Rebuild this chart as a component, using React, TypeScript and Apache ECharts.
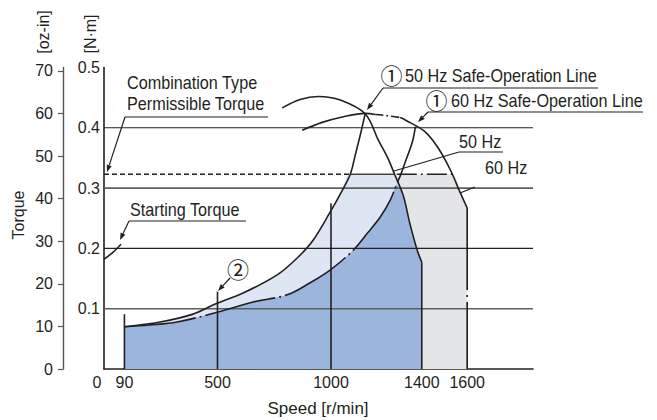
import React, { useEffect, useRef } from "react";
import * as echarts from "echarts";

// ---------- data ----------
const xMax = 1890;
const xTickValues = [0, 90, 500, 1000, 1400, 1600];
const nmMax = 0.5;
const nmTickValues = [0.1, 0.2, 0.3, 0.4, 0.5];
const ozPerNm = 141.612;
const ozTickValues = [0, 10, 20, 30, 40, 50, 60, 70];
const gridValues = [0.1, 0.2, 0.3, 0.4];

// starting torque (start of the speed-torque curve)
const startingTorqueCurve = [[0, 0.182], [38, 0.193], [75, 0.207]];
// 50 Hz speed-torque curve
const torque50Hz = [[785, 0.433], [864, 0.447], [944, 0.452], [1041, 0.446], [1151, 0.423], [1208, 0.38], [1250, 0.35], [1280, 0.323], [1318, 0.288], [1349, 0.239], [1380, 0.197], [1400, 0.177]];
const edge1400 = [[1400, 0.177], [1400, 0]];
// 60 Hz speed-torque curve (solid / dash-dot / solid)
const torque60HzA = [[873, 0.396], [961, 0.409], [1050, 0.418], [1151, 0.424], [1195, 0.422]];
const torque60HzB = [[1195, 0.422], [1250, 0.42], [1305, 0.417]];
const torque60HzC = [[1305, 0.417], [1327, 0.413], [1416, 0.393], [1473, 0.366], [1526, 0.33], [1570, 0.292], [1600, 0.267]];
const edge1600 = [[1600, 0.267], [1600, 0]];
// safe-operation lines
const safe50Hz = [[90, 0.07], [247, 0.078], [392, 0.091], [498, 0.109], [613, 0.126], [763, 0.156], [851, 0.184], [922, 0.214], [996, 0.26], [1045, 0.293], [1085, 0.323], [1107, 0.355], [1129, 0.388], [1151, 0.424]];
const safe60Hz = [[90, 0.07], [200, 0.073], [322, 0.078], [498, 0.094], [657, 0.111], [807, 0.123], [908, 0.143], [996, 0.164], [1098, 0.197], [1160, 0.225], [1217, 0.252], [1261, 0.28], [1293, 0.31], [1308, 0.323], [1327, 0.343], [1358, 0.376], [1372, 0.402]];
// combination type permissible torque
const permissibleDashed = [[0, 0.323], [1085, 0.323]];
const permissibleSolid = [[1085, 0.323], [1280, 0.323]];
const permissibleDashDot = [[1290, 0.323], [1534, 0.323]];
// speed markers (vertical lines)
const speedMarkers = [[90, 0.091], [500, 0.128], [1000, 0.275]];
// operating regions
const region60Hz = [[90, 0.07], [200, 0.073], [322, 0.078], [498, 0.094], [657, 0.111], [807, 0.123], [908, 0.143], [996, 0.164], [1098, 0.197], [1160, 0.225], [1217, 0.252], [1261, 0.28], [1293, 0.31], [1308, 0.323], [1534, 0.323], [1570, 0.292], [1600, 0.267], [1600, 0]];
const region50Hz = [[90, 0.07], [247, 0.078], [392, 0.091], [498, 0.109], [613, 0.126], [763, 0.156], [851, 0.184], [922, 0.214], [996, 0.26], [1045, 0.293], [1085, 0.323], [1280, 0.323], [1318, 0.288], [1349, 0.239], [1380, 0.197], [1400, 0.177], [1400, 0]];
const regionBoth = [[90, 0.07], [200, 0.073], [322, 0.078], [498, 0.094], [657, 0.111], [807, 0.123], [908, 0.143], [996, 0.164], [1098, 0.197], [1160, 0.225], [1217, 0.252], [1261, 0.28], [1290, 0.306], [1318, 0.288], [1349, 0.239], [1380, 0.197], [1400, 0.177], [1400, 0]];

// ---------- styles ----------
const ink = "#231f20";
const FONT = '"Liberation Sans", "Noto Sans CJK JP", Arial, sans-serif';
const FS = 16;

function lineSeries(data: number[][], opts: any = {}) {
  return {
    type: "line",
    data,
    symbol: "none",
    silent: true,
    smooth: opts.smooth ?? 0,
    z: opts.z ?? 4,
    lineStyle: { color: opts.color ?? ink, width: opts.width ?? 1.6, type: opts.type ?? "solid" },
  };
}
function areaSeries(data: number[][], color: string, z: number) {
  return {
    type: "line",
    data,
    symbol: "none",
    silent: true,
    smooth: 0.3,
    z,
    lineStyle: { width: 0, opacity: 0 },
    areaStyle: { color, opacity: 1 },
  };
}

function txt(x: number, y: number, text: string, extra: any = {}) {
  return {
    type: "text",
    x,
    y,
    rotation: extra.rotation ?? 0,
    scaleX: extra.scaleX ?? 1,
    z: 100,
    style: {
      text,
      font: `${extra.size ?? FS}px ${FONT}`,
      fill: ink,
      align: extra.align ?? "left",
      verticalAlign: "middle",
    },
  };
}
// annotation text: slightly condensed
function note(x: number, y: number, text: string) {
  return txt(x, y, text, { size: 18, scaleX: 0.9 });
}
function circled(cx: number, cy: number, ch: string) {
  return txt(cx, cy, ch, { size: 22, align: "center" });
}
function seg(x1: number, y1: number, x2: number, y2: number, w = 1.2) {
  return { type: "line", z: 100, shape: { x1, y1, x2, y2 }, style: { stroke: ink, lineWidth: w } };
}
function arrow(x1: number, y1: number, x2: number, y2: number) {
  const dx = x2 - x1, dy = y2 - y1;
  const len = Math.hypot(dx, dy);
  const ux = dx / len, uy = dy / len;
  const hl = 7, hw = 2.6;
  const bx = x2 - ux * hl, by = y2 - uy * hl;
  const px = -uy, py = ux;
  return [
    seg(x1, y1, bx, by),
    {
      type: "polygon",
      z: 100,
      shape: { points: [[x2, y2], [bx + px * hw, by + py * hw], [bx - px * hw, by - py * hw]] },
      style: { fill: ink },
    },
  ];
}

export default function App() {
  const ref = useRef<HTMLDivElement>(null);
  useEffect(() => {
    if (!ref.current) return;
    const chart = echarts.init(ref.current, null, { renderer: "svg" });

    const gridSeries = gridValues.map((v, i) =>
      lineSeries([[0, v], [xMax, v]], {
        z: 3,
        color: i % 2 === 0 ? "#5f5f5f" : "#222",
        width: i % 2 === 0 ? 1.6 : 1.1,
      })
    );
    const markerSeries = speedMarkers.map((m) => lineSeries([[m[0], 0], [m[0], m[1]]], { width: 1.6 }));

    const option: any = {
      animation: false,
      backgroundColor: "#fff",
      grid: { left: 104, right: 124, top: 67.5, bottom: 51, containLabel: false },
      xAxis: {
        type: "value",
        min: 0,
        max: xMax,
        axisLine: { show: true, lineStyle: { color: ink, width: 1.6 } },
        axisTick: { show: false },
        splitLine: { show: false },
        axisLabel: {
          customValues: xTickValues,
          margin: 5,
          color: ink,
          fontSize: FS,
          fontFamily: FONT,
          formatter: (v: number) => (v === 0 ? "{l|0}" : String(v)),
          rich: { l: { padding: [0, 14, 0, 0], fontSize: FS, fontFamily: FONT, color: ink } },
        },
      },
      yAxis: [
        {
          type: "value",
          min: 0,
          max: nmMax,
          position: "left",
          axisLine: { show: true, lineStyle: { color: ink, width: 1.6 } },
          axisTick: { show: false },
          splitLine: { show: false },
          axisLabel: {
            customValues: nmTickValues,
            margin: 4,
            color: ink,
            fontSize: FS,
            fontFamily: FONT,
            formatter: (v: number) => v.toFixed(1),
          },
        },
        {
          type: "value",
          min: 0,
          max: nmMax * ozPerNm,
          position: "left",
          offset: 41,
          axisLine: { show: true, lineStyle: { color: "#555", width: 1.4 } },
          axisTick: { show: true, inside: false, length: 5, customValues: ozTickValues, lineStyle: { color: "#555", width: 1.2 } },
          splitLine: { show: false },
          axisLabel: {
            customValues: ozTickValues,
            margin: 10,
            color: ink,
            fontSize: FS,
            fontFamily: FONT,
          },
        },
      ],
      series: [
        areaSeries(region60Hz, "#e4e5e7", 1),
        areaSeries(region50Hz, "#dfe6f3", 1),
        areaSeries(regionBoth, "#9bb5dd", 1),
        ...gridSeries,
        lineSeries(permissibleDashed, { type: [5, 3], width: 1.3 }),
        lineSeries(permissibleSolid, { width: 1.3, color: "#444" }),
        lineSeries(permissibleDashDot, { type: [20, 4, 2, 4], width: 1.4 }),
        lineSeries(startingTorqueCurve, { smooth: 0.3 }),
        lineSeries(torque50Hz, { smooth: 0.35 }),
        lineSeries(edge1400),
        lineSeries(torque60HzA, { smooth: 0.35 }),
        lineSeries(torque60HzB, { smooth: 0.35, type: [8, 3, 2, 3] }),
        lineSeries(torque60HzC, { smooth: 0.35 }),
        lineSeries(edge1600, { type: [82, 5, 2, 5, 300] }),
        lineSeries(safe50Hz, { smooth: 0.35 }),
        lineSeries(safe60Hz, { smooth: 0.35, type: [72, 4, 2, 4] }),
        ...markerSeries,
      ],
      graphic: [
        txt(43, 32, "[oz-in]", { rotation: Math.PI / 2, align: "center" }),
        txt(90, 34, "[N·m]", { rotation: Math.PI / 2, align: "center" }),
        txt(18, 215, "Torque", { rotation: Math.PI / 2, align: "center" }),
        txt(318, 408, "Speed [r/min]", { align: "center", size: 17 }),
        note(127, 83, "Combination Type"),
        note(127, 104, "Permissible Torque"),
        seg(125, 117, 268, 117),
        ...arrow(125, 117, 107, 172),
        note(130, 210, "Starting Torque"),
        seg(129, 221, 246, 221),
        ...arrow(129, 221, 120, 240),
        circled(391.5, 76, "①"),
        note(405, 76, "50 Hz Safe-Operation Line"),
        seg(383, 88, 598, 88),
        ...arrow(383, 88, 367, 110),
        circled(436.5, 101, "①"),
        note(451, 101, "60 Hz Safe-Operation Line"),
        seg(428, 112, 643, 112),
        ...arrow(428, 112, 418, 122),
        note(459, 142, "50 Hz"),
        seg(459, 152, 503, 152),
        seg(394, 171, 459, 152),
        note(485, 168, "60 Hz"),
        seg(460, 193, 475, 187),
        circled(238, 270, "②"),
        ...arrow(230, 278, 218, 291),
      ],
    };
    chart.setOption(option);
    return () => chart.dispose();
  }, []);
  return (
    <div
      ref={ref}
      style={{ position: "fixed", left: 0, top: 0, width: 657, height: 420, background: "#fff" }}
    />
  );
}
